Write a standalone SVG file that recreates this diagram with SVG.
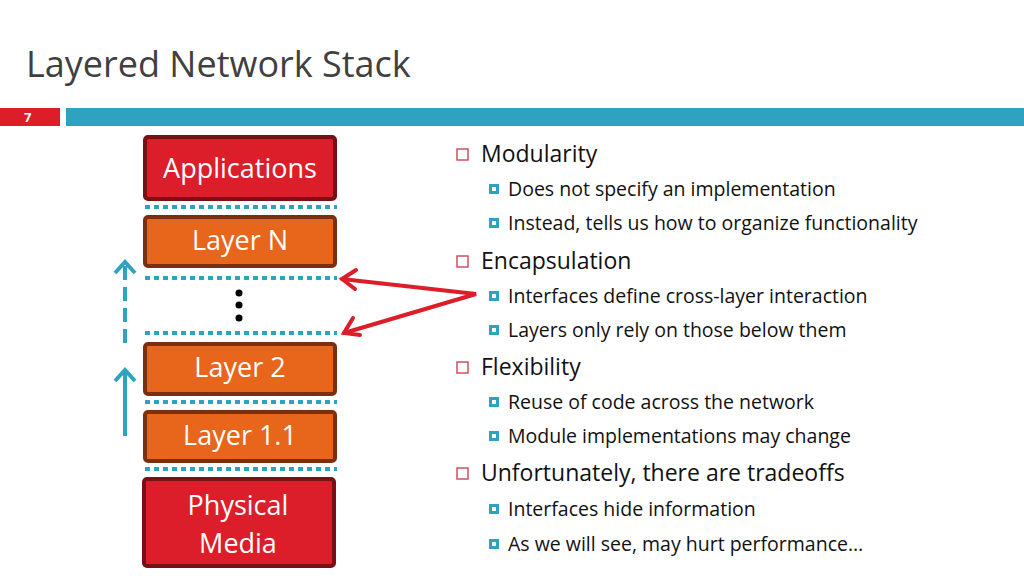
<svg xmlns="http://www.w3.org/2000/svg" width="1024" height="576" viewBox="0 0 1024 576">
<defs>
<style>
text{font-family:"Open Sans","Liberation Sans",sans-serif}
.box{stroke-width:4}
.red{fill:#dc1e2a;stroke:#7a1017}
.org{fill:#e8651c;stroke:#7a3010}
.lbl{fill:#fff;font-size:27px;text-anchor:middle}
.dot{stroke:#2da3c0;stroke-width:4;stroke-dasharray:5 4}
.l1{font-size:23px;fill:#111}
.l2{font-size:19.5px;fill:#111}
.b1{fill:none;stroke:#d05060;stroke-width:1.5}
.b2{fill:#2da3c0}
</style>
<marker id="ab" markerWidth="10" markerHeight="10" refX="5" refY="3" orient="auto-start-reverse" markerUnits="userSpaceOnUse" viewBox="0 0 10 10"><path d="M-8,14 L5,3" /></marker>
</defs>
<rect width="1024" height="576" fill="#fff"/>
<text x="26" y="77" font-size="36" fill="#404040">Layered Network Stack</text>
<rect x="0" y="108" width="60" height="18" fill="#dc1e2a"/>
<text x="24" y="122" font-size="13" font-weight="bold" fill="#fff">7</text>
<rect x="66" y="108" width="958" height="18" fill="#2da3c0"/>
<g id="applications"><rect class="box red" x="145" y="137" width="190" height="62" rx="3"/><text class="lbl" x="240" y="178">Applications</text></g>
<g id="layerN"><rect class="box org" x="145" y="217" width="190" height="49" rx="3"/><text class="lbl" x="240" y="250">Layer N</text></g>
<g id="ellipsis"><circle cx="239" cy="293" r="3.5"/><circle cx="239" cy="305" r="3.5"/><circle cx="239" cy="318" r="3.5"/></g>
<g id="layer2"><rect class="box org" x="145" y="344" width="190" height="50" rx="3"/><text class="lbl" x="240" y="377">Layer 2</text></g>
<g id="layer11"><rect class="box org" x="145" y="412" width="190" height="49" rx="3"/><text class="lbl" x="240" y="445">Layer 1.1</text></g>
<g id="physical"><rect class="box red" x="144" y="479" width="190" height="87" rx="3"/><text class="lbl" x="238" y="515">Physical</text><text class="lbl" x="238" y="553">Media</text></g>
<g id="connectors">
<line class="dot" x1="145" y1="207" x2="337" y2="207"/>
<line class="dot" x1="145" y1="278" x2="337" y2="278"/>
<line class="dot" x1="145" y1="333" x2="337" y2="333"/>
<line class="dot" x1="145" y1="402" x2="337" y2="402"/>
<line class="dot" x1="145" y1="469" x2="337" y2="469"/>
<g stroke="#2da3c0" stroke-width="4" fill="none">
<line x1="125" y1="436" x2="125" y2="372"/><path d="M115,381 L125,370 L135,381"/>
<line x1="125" y1="343" x2="125" y2="266" stroke-dasharray="14 7"/><path d="M115,273 L125,262 L135,273"/>
</g>
<g stroke="#dc1e2a" stroke-width="4" fill="none" stroke-linecap="round">
<polyline points="342,279 476,294 344,333"/>
<path d="M356,270 L342,279 L355,289"/>
<path d="M353,318 L344,333 L360,335"/>
</g>
</g>
<g id="bullets">
<rect class="b1" x="457" y="149" width="11" height="11"/>
<text class="l1" x="481" y="162">Modularity</text>
<rect class="b2" x="489" y="184" width="10" height="10"/><rect x="492" y="187" width="4" height="4" fill="#fff"/>
<text class="l2" x="508" y="196">Does not specify an implementation</text>
<rect class="b2" x="489" y="218" width="10" height="10"/><rect x="492" y="221" width="4" height="4" fill="#fff"/>
<text class="l2" x="508" y="230">Instead, tells us how to organize functionality</text>
<rect class="b1" x="457" y="256" width="11" height="11"/>
<text class="l1" x="481" y="269">Encapsulation</text>
<rect class="b2" x="489" y="291" width="10" height="10"/><rect x="492" y="294" width="4" height="4" fill="#fff"/>
<text class="l2" x="508" y="303">Interfaces define cross-layer interaction</text>
<rect class="b2" x="489" y="325" width="10" height="10"/><rect x="492" y="328" width="4" height="4" fill="#fff"/>
<text class="l2" x="508" y="337">Layers only rely on those below them</text>
<rect class="b1" x="457" y="362" width="11" height="11"/>
<text class="l1" x="481" y="375">Flexibility</text>
<rect class="b2" x="489" y="397" width="10" height="10"/><rect x="492" y="400" width="4" height="4" fill="#fff"/>
<text class="l2" x="508" y="409">Reuse of code across the network</text>
<rect class="b2" x="489" y="431" width="10" height="10"/><rect x="492" y="434" width="4" height="4" fill="#fff"/>
<text class="l2" x="508" y="443">Module implementations may change</text>
<rect class="b1" x="457" y="468" width="11" height="11"/>
<text class="l1" x="481" y="481">Unfortunately, there are tradeoffs</text>
<rect class="b2" x="489" y="504" width="10" height="10"/><rect x="492" y="507" width="4" height="4" fill="#fff"/>
<text class="l2" x="508" y="516">Interfaces hide information</text>
<rect class="b2" x="489" y="539" width="10" height="10"/><rect x="492" y="542" width="4" height="4" fill="#fff"/>
<text class="l2" x="508" y="551">As we will see, may hurt performance…</text>
</g>
</svg>
